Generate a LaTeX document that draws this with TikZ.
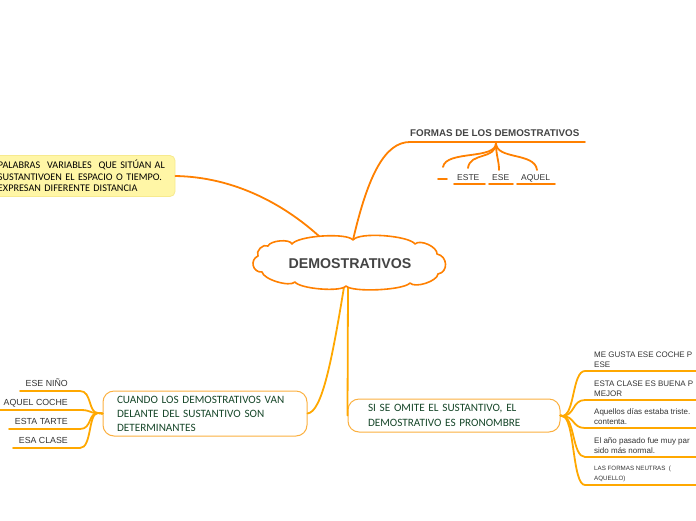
\documentclass[tikz,border=0pt]{standalone}
\usepackage{fontspec}
\setmainfont{Liberation Sans}
\newfontfamily\candfont{Carlito}
\definecolor{orng}{HTML}{FF8000}
\definecolor{amber}{HTML}{FFA800}
\definecolor{boxline}{HTML}{FBB040}
\definecolor{dkgreen}{HTML}{17472A}
\definecolor{txtgray}{HTML}{333333}
\definecolor{titlegray}{HTML}{444444}
\definecolor{yfill}{HTML}{FFF6A6}
\definecolor{yline}{HTML}{F7EA8E}
\begin{document}
\begin{tikzpicture}[x=1pt,y=-1pt,
  conn/.style={draw=orng, line width=1.8pt, line cap=round},
  conn2/.style={draw=amber, line width=1.8pt, line cap=round},
  rleaf/.style={font=\fontsize{8}{9.8}\selectfont, text=txtgray, inner sep=0pt, anchor=south west, align=left},
  lleaf/.style={font=\fontsize{8.8}{10}\selectfont, text=txtgray, inner sep=0pt, anchor=base east},
  tleaf/.style={font=\fontsize{8.5}{10}\selectfont, text=txtgray, inner sep=0pt, anchor=base west},
  greenbox/.style={draw=boxline, line width=1pt, rounded corners=11pt, fill=white,
    font=\candfont\fontsize{11.2}{14}\selectfont, text=dkgreen, align=left}
]
\path[use as bounding box] (0,0) rectangle (696,520);
\clip (0,0) rectangle (696,520);

% attachment points on the cloud outline
\coordinate (ctop) at (353,240);
\coordinate (cleft) at (320,237);
\coordinate (cbl) at (344,287);
\coordinate (cbr) at (348,287);

% yellow definition box
\node[draw=yline, fill=yfill, rounded corners=5pt, line width=0.8pt, minimum width=185pt, minimum height=41pt,
  text width=169pt, inner xsep=8pt, align=left, font=\candfont\fontsize{10.2}{11.6}\selectfont, text=black]
  (def) at (82.5,176) {PALABRAS\ \ VARIABLES\ \ QUE SITÚAN AL\\SUSTANTIVOEN EL ESPACIO O TIEMPO.\\EXPRESAN DIFERENTE DISTANCIA};
\draw[conn] (def.east) .. controls (235,177) and (285,205) .. (cleft);

% formas branch
\node[font=\bfseries\fontsize{9.8}{11}\selectfont, text=titlegray, anchor=base west, inner sep=0pt] (formas) at (410,136) {FORMAS DE LOS DEMOSTRATIVOS};
\coordinate (fstart) at (410,142);
\coordinate (fend) at (585,142);
\coordinate (fbr) at (496,143);
\draw[conn] (ctop) .. controls (368,175) and (385,142) .. (fstart) -- (fend);

\node[tleaf] (este) at (457,180) {ESTE};
\node[tleaf] (ese) at (492,180) {ESE};
\node[tleaf] (aquel) at (521,180) {AQUEL};
\coordinate (d0) at (443,167);
\coordinate (d1) at (468,168);
\coordinate (d2) at (499,170);
\coordinate (d3) at (537,170);
\draw[conn] (fbr) .. controls (496,160) and (446,150) .. (d0);
\draw[conn] (fbr) .. controls (496,160) and (470,152) .. (d1);
\draw[conn] (fbr) .. controls (496,156) and (499,160) .. (d2);
\draw[conn] (fbr) .. controls (496,160) and (535,152) .. (d3);
\draw[conn] (438,179) -- (447,179);
\draw[conn] (454,184) -- (485,184);
\draw[conn] (489,184) -- (513,184);
\draw[conn] (517,184) -- (555,184);

% bottom-left box
\node[greenbox, minimum width=204pt, minimum height=45pt, text width=176pt, inner xsep=14pt]
  (det) at (205,413.5) {CUANDO LOS DEMOSTRATIVOS VAN\\DELANTE DEL SUSTANTIVO SON\\DETERMINANTES};
\draw[conn2] (cbl) .. controls (332,360) and (322,412) .. (det.east);

\node[lleaf] (l1) at (68,386) {ESE NIÑO};
\node[lleaf] (l2) at (68,405) {AQUEL COCHE};
\node[lleaf] (l3) at (68,424) {ESTA TARTE};
\node[lleaf] (l4) at (68,443) {ESA CLASE};
\coordinate (lb) at (98,413);
\foreach \y/\x/\n in {391/20/1, 410/0/2, 429/9/3, 448/13/4}{
  \coordinate (le\n) at (80,\y);
  \draw[conn2] (det.west) -- (lb) .. controls (88,413) and (92,\y) .. (le\n) -- (\x,\y);
}

% bottom-right box
\node[greenbox, minimum width=212pt, minimum height=33pt, text width=172pt, inner xsep=20pt,
  font=\candfont\fontsize{11.2}{14.5}\selectfont]
  (pron) at (454,415.5) {SI SE OMITE EL SUSTANTIVO, EL\\DEMOSTRATIVO ES PRONOMBRE};
\draw[conn2] (cbr) -- (pron.west);

\node[rleaf] (r1) at (594,368) {ME GUSTA ESE COCHE P\\ESE};
\node[rleaf] (r2) at (594,397) {ESTA CLASE ES BUENA P\\MEJOR};
\node[rleaf] (r3) at (594,425) {Aquellos días estaba triste. \\contenta.};
\node[rleaf] (r4) at (594,454) {El año pasado fue muy par\\sido más normal.};
\node[rleaf, font=\fontsize{6.2}{9.8}\selectfont] (r5) at (594,482) {LAS FORMAS NEUTRAS\ \ (\ \ \\AQUELLO)};
\coordinate (rb) at (562,416);
\foreach \y/\n in {371/1, 400/2, 428/3, 457/4, 485/5}{
  \coordinate (re\n) at (585,\y);
  \draw[conn2] (pron.east) -- (rb) .. controls (575,416) and (572,\y) .. (re\n) -- (696,\y);
}

% central cloud (drawn on top of connector ends)
\draw[draw=orng, line width=1.6pt, fill=white, line join=round]
  (268,246) .. controls (270,240.5) and (290,238.5) .. (292,244)
  .. controls (298,235.6) and (347,232.4) .. (353,240)
  .. controls (359,231.6) and (409,235.6) .. (415,244)
  .. controls (419.9,238.9) and (437.7,246.9) .. (437,254)
  .. controls (447.7,256) and (448.7,272) .. (438,274)
  .. controls (437.3,281.3) and (414.9,288.5) .. (410,283)
  .. controls (403.6,290.3) and (352.4,292.6) .. (346,286)
  .. controls (340.9,292.3) and (300.1,288.9) .. (295,282)
  .. controls (289.8,287.4) and (263.4,279.4) .. (262,272)
  .. controls (252.6,272.7) and (249.4,259.9) .. (258,256)
  .. controls (255.2,251.2) and (263.2,243.2) .. cycle;
\node[inner sep=0pt, font=\bfseries\fontsize{14.2}{16}\selectfont, text=titlegray] (cloud) at (350,264) {DEMOSTRATIVOS};
\end{tikzpicture}
\end{document}
